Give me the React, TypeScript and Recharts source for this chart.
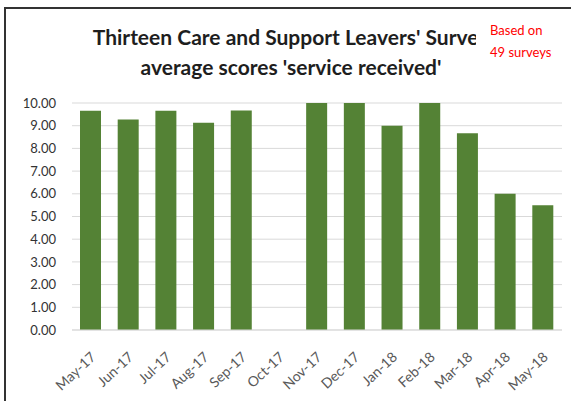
import { BarChart, Bar, XAxis, YAxis, CartesianGrid } from 'recharts';

const months = [
  'May-17', 'Jun-17', 'Jul-17', 'Aug-17', 'Sep-17', 'Oct-17', 'Nov-17',
  'Dec-17', 'Jan-18', 'Feb-18', 'Mar-18', 'Apr-18', 'May-18',
];
const scores: (number | null)[] = [9.66, 9.27, 9.66, 9.13, 9.67, null, 10, 10, 9.0, 10, 8.67, 6.0, 5.5];
const yTicks = [0, 1, 2, 3, 4, 5, 6, 7, 8, 9, 10];

const titleLines = ["Thirteen Care and Support Leavers' Survey", "average scores 'service received'"];
const noteLines = ['Based on', '49 surveys'];

const data = months.map((month, i) => ({ month, score: scores[i] }));

const fontFamily = 'Lato, "Open Sans", sans-serif';

function MonthTick({ x, y, payload }: any) {
  const ax = x - 1;
  const ay = y + 13;
  return (
    <text
      x={ax}
      y={ay}
      dy="0.71em"
      textAnchor="end"
      transform={`rotate(-43, ${ax}, ${ay})`}
      fill="#595959"
      fontSize={14}
      fontFamily={fontFamily}
    >
      {payload.value}
    </text>
  );
}

export default function App() {
  return (
    <div style={{ position: 'fixed', left: 0, top: 0, width: 571, height: 401, overflow: 'hidden', background: '#fff' }}>
      <div
        style={{
          position: 'absolute',
          left: 4,
          top: 7,
          width: 600,
          height: 420,
          borderLeft: '2px solid #333',
          borderTop: '2px solid #333',
        }}
      />
      <div style={{ position: 'absolute', left: 0, top: 0 }}>
        <BarChart width={571} height={401} data={data} margin={{ top: 103, right: 9, left: 12, bottom: 11 }}>
          <CartesianGrid vertical={false} stroke="#d9d9d9" />
          <XAxis
            dataKey="month"
            interval={0}
            height={60}
            axisLine={{ stroke: '#d9d9d9' }}
            tickLine={false}
            tick={<MonthTick />}
          />
          <YAxis
            width={60}
            domain={[0, 10]}
            ticks={yTicks}
            interval={0}
            tickFormatter={(v: number) => v.toFixed(2)}
            axisLine={false}
            tickLine={false}
            tickMargin={10}
            tick={{ fill: '#333333', fontSize: 13, fontFamily }}
          />
          <Bar dataKey="score" fill="#548235" barSize={21} isAnimationActive={false} />
        </BarChart>
      </div>
      <div
        style={{
          position: 'absolute',
          left: 91,
          width: 400,
          top: 22,
          textAlign: 'center',
          fontFamily,
          fontWeight: 700,
          fontSize: 21,
          lineHeight: '30px',
          color: '#1e1e1e',
          whiteSpace: 'nowrap',
        }}
      >
        {titleLines.map((l) => (
          <div key={l}>{l}</div>
        ))}
      </div>
      <div
        style={{
          position: 'absolute',
          left: 476,
          top: 19,
          paddingLeft: 14,
          width: 80,
          background: '#fff',
          fontFamily,
          fontSize: 13,
          lineHeight: '22px',
          color: '#ff0000',
        }}
      >
        {noteLines.map((l) => (
          <div key={l}>{l}</div>
        ))}
      </div>
    </div>
  );
}
